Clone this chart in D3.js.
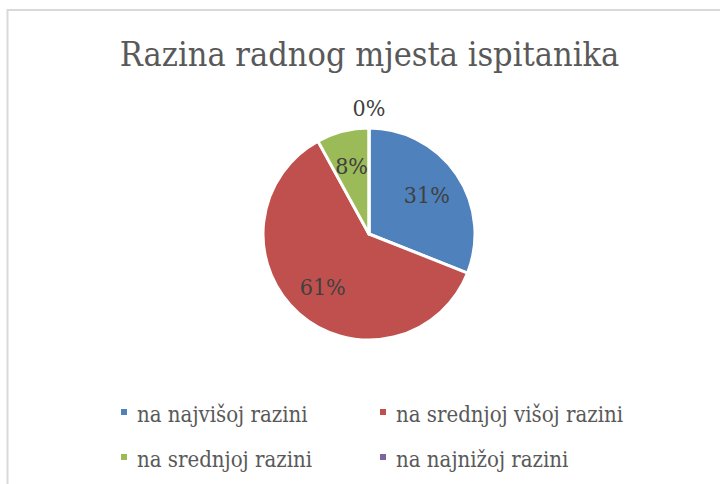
<!DOCTYPE html>
<html>
<head>
<meta charset="utf-8">
<script src="https://cdn.jsdelivr.net/npm/d3@7"></script>
<style>
    body { margin: 0; background: #fff; }
    svg text { font-family: "DejaVu Serif Condensed", "DejaVu Serif", serif; font-stretch: condensed; fill: #595959; }
</style>
</head>
<body>
<script>

    //chart size
    var w = 720, h = 484;

    //data
    var categories = ["na najvišoj razini", "na srednjoj višoj razini", "na srednjoj razini", "na najnižoj razini"];
    var shares = [31, 61, 8, 0];
    var colors = ["#4f81bd", "#c0504d", "#9bbb59", "#8064a2"];

    var data = categories.map(function(c, i) {
        return { name: c, value: shares[i], color: colors[i] };
    });

    var svg = d3.select("body")
        .append("svg")
        .attr("width", w)
        .attr("height", h);

    //the chart frame (only top and left edge are visible)
    svg.append("path")
        .attr("d", "M7.5,484 V10 H720")
        .attr("fill", "none")
        .attr("stroke", "#d9d9d9")
        .attr("stroke-width", 2);

    //title
    svg.append("text")
        .attr("x", 369.5)
        .attr("y", 66)
        .attr("text-anchor", "middle")
        .style("font-size", "34px")
        .text("Razina radnog mjesta ispitanika");

    //pie
    var cx = 369, cy = 234, r = 106;

    var pie = d3.pie()
        .sort(null)
        .value(function(d) { return d.value; });

    var arc = d3.arc().innerRadius(0).outerRadius(r);
    var labelArc = d3.arc().innerRadius(r * 0.66).outerRadius(r * 0.66);

    var g = svg.append("g")
        .attr("transform", "translate(" + cx + "," + cy + ")");

    var arcs = pie(data);

    g.selectAll(".slice")
        .data(arcs)
        .enter()
        .append("path")
        .attr("class", "slice")
        .attr("d", arc)
        .attr("fill", function(d) { return d.data.color; })
        .attr("stroke", "#fff")
        .attr("stroke-width", 3)
        .attr("stroke-linejoin", "round");

    //percentage labels, empty slices go outside the pie
    g.selectAll(".pct")
        .data(arcs)
        .enter()
        .append("text")
        .attr("class", "pct")
        .attr("text-anchor", "middle")
        .attr("dy", "0.35em")
        .attr("transform", function(d) {
            if (d.data.value === 0) {
                var a = d.startAngle;
                return "translate(" + (Math.sin(a) * (r + 20)) + "," + (-Math.cos(a) * (r + 20)) + ")";
            }
            return "translate(" + labelArc.centroid(d) + ")";
        })
        .style("font-size", "23px")
        .style("fill", "#404040")
        .text(function(d) { return d.data.value + "%"; });

    //legend in two rows
    var legend = svg.selectAll(".legend")
        .data(data)
        .enter()
        .append("g")
        .attr("class", "legend")
        .attr("transform", function(d, i) {
            var col = i % 2, row = Math.floor(i / 2);
            return "translate(" + (121 + col * 259) + "," + (409 + row * 45) + ")";
        });

    legend.append("rect")
        .attr("width", 6)
        .attr("height", 6)
        .attr("fill", function(d) { return d.color; });

    legend.append("text")
        .attr("x", 16)
        .attr("y", 12.7)
        .style("font-size", "22px")
        .text(function(d) { return d.name; });

</script>
</body>
</html>
